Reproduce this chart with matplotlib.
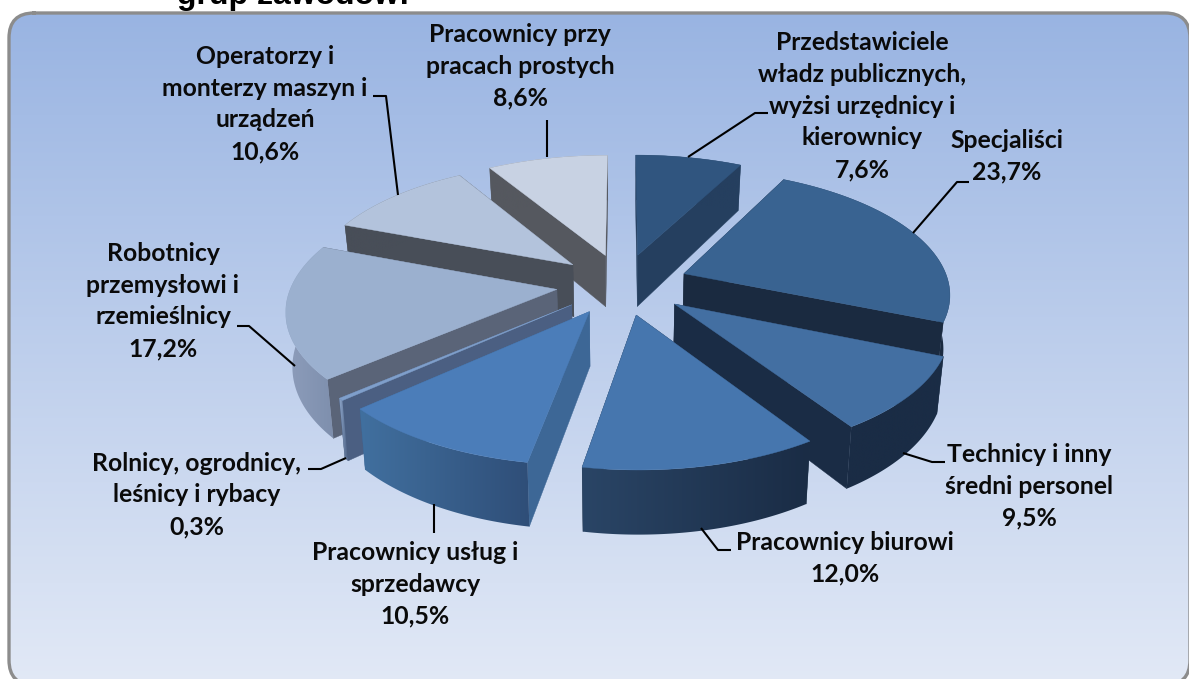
import numpy as np
import matplotlib
matplotlib.use("Agg")
import matplotlib.pyplot as plt
from matplotlib.patches import FancyBboxPatch, Polygon
from matplotlib.colors import to_rgb

labels = ["Przedstawiciele\nwładz publicznych,\nwyżsi urzędnicy i\nkierownicy",
          "Specjaliści",
          "Technicy i inny\nśredni personel",
          "Pracownicy biurowi",
          "Pracownicy usług i\nsprzedawcy",
          "Rolnicy, ogrodnicy,\nleśnicy i rybacy",
          "Robotnicy\nprzemysłowi i\nrzemieślnicy",
          "Operatorzy i\nmonterzy maszyn i\nurządzeń",
          "Pracownicy przy\npracach prostych"]
values = [7.6, 23.7, 9.5, 12.0, 10.5, 0.3, 17.2, 10.6, 8.6]

top_colors = ["#30557F", "#396391", "#436FA2", "#4676AE", "#4B7DB9",
              "#7F9FCB", "#9BB0CF", "#B3C3DC", "#C8D2E3"]
side_colors = ["#253F5F", "#1A2A40", "#1A2C45", "#1C3048", "#3D6796",
               "#4B5F82", "#5A6478", "#484E58", "#55585F"]
# outer wall gradient, left to right
rim_left = ["#253F5F", "#1A2A40", "#1A2C45", "#2A4566", "#41709F",
            "#8FA8CC", "#8D9DBB", "#484E58", "#55585F"]
rim_right = ["#253F5F", "#1A2A40", "#1A2C45", "#1A2C45", "#2F4E78",
             "#4B5F82", "#7E8FAD", "#484E58", "#55585F"]
draw_order = [8, 0, 7, 1, 6, 2, 5, 4, 3]

label_x = [862, 1007, 1029, 845, 415, 197, 163, 265, 520]
label_y = [106, 156, 486, 558, 584, 495, 301, 104, 66]
leaders = [[(688, 157), (755, 113), (768, 113)],
           [(913, 233), (957, 182), (969, 182)],
           [(903, 453), (932, 462), (945, 462)],
           [(701, 528), (718, 550), (731, 550)],
           [(434, 504), (434, 533)],
           [(346, 458), (321, 469), (308, 469)],
           [(295, 366), (249, 326), (237, 326)],
           [(398, 195), (386, 96), (373, 96)],
           [(547, 157), (547, 120)]]

# tilted pie, flat plane -> picture
cx, cy = 622.5, 284
rx, ry = 265, 122.4
persp = 0.145
explode = 0.25
depth = 53
shrink = 0.98


def project(u, v, low=False):
    s = 1 / (1 + persp * v)
    x = cx + rx * u * s
    y = cy - ry * v * s
    if low:
        x = cx + (x - cx) * shrink
        y = y + depth * s
    return x, y


def mix(c1, c2, t):
    return tuple((1 - t) * a + t * b for a, b in zip(to_rgb(c1), to_rgb(c2)))


plt.rcParams['font.family'] = ['Lato', 'DejaVu Sans']
fig = plt.figure(figsize=(11.89, 6.79), dpi=100)
ax = fig.add_axes([0, 0, 1, 1])
ax.set_xlim(0, 1189)
ax.set_ylim(679, 0)
ax.axis("off")

# background
clip = FancyBboxPatch((9 + 25, 13 + 25), 1181 - 50, 672 - 50,
                      boxstyle="round,pad=25,rounding_size=25",
                      facecolor="none", edgecolor="none")
ax.add_patch(clip)
grad = np.linspace(0, 1, 256)
colors = np.array([mix("#99B4E2", "#E2E9F6", t) for t in grad]).reshape(-1, 1, 3)
im = ax.imshow(colors, extent=(9, 1190, 685, 13), aspect="auto", zorder=1)
im.set_clip_path(clip)
outline = clip.get_path().to_polygons(closed_only=False)[0]
ax.plot(outline[:, 0], outline[:, 1], color="#8C8C8C", lw=2.4, zorder=2)

ax.text(293, 3.8, "grup zawodów:", ha="center", va="baseline", fontsize=23,
        fontweight="bold", family=["Liberation Sans"], color="black", zorder=20)

# slices
fracs = np.array(values) / sum(values) * 2 * np.pi
starts = np.concatenate([[0], np.cumsum(fracs)[:-1]])

z = 5
for i in draw_order:
    a0, a1 = starts[i], starts[i] + fracs[i]
    mid = (a0 + a1) / 2
    tu, tv = explode * np.sin(mid), explode * np.cos(mid)
    ang = np.linspace(a0, a1, max(int(np.degrees(fracs[i]) * 2), 4))
    u = tu + np.sin(ang)
    v = tv + np.cos(ang)
    xt, yt = project(u, v)
    xb, yb = project(u, v, low=True)
    tipx, tipy = project(tu, tv)
    tipxb, tipyb = project(tu, tv, low=True)

    # the two cut walls
    ax.fill([tipx, xt[0], xb[0], tipxb], [tipy, yt[0], yb[0], tipyb],
            facecolor=side_colors[i], edgecolor=side_colors[i], lw=0.3, zorder=z)
    ax.fill([tipx, xt[-1], xb[-1], tipxb], [tipy, yt[-1], yb[-1], tipyb],
            facecolor=side_colors[i], edgecolor=side_colors[i], lw=0.3, zorder=z)
    z += 1
    # outer wall with its gradient
    wall = Polygon(np.c_[np.r_[xt, xb[::-1]], np.r_[yt, yb[::-1]]],
                   facecolor="none", edgecolor="none", transform=ax.transData)
    ax.add_patch(wall)
    shade = np.array([mix(rim_left[i], rim_right[i], t) for t in grad]).reshape(1, -1, 3)
    w = ax.imshow(shade, extent=(min(xt.min(), xb.min()), max(xt.max(), xb.max()),
                                 max(yt.max(), yb.max()), min(yt.min(), yb.min())),
                  aspect="auto", zorder=z)
    w.set_clip_path(wall)
    z += 1
    # top face
    ax.fill(np.r_[tipx, xt], np.r_[tipy, yt],
            facecolor=top_colors[i], edgecolor=top_colors[i], lw=0.3, zorder=z)
    z += 1

ax.set_xlim(0, 1189)
ax.set_ylim(679, 0)

# leader lines and labels
for i in range(len(values)):
    px = [p[0] for p in leaders[i]]
    py = [p[1] for p in leaders[i]]
    ax.plot(px, py, color="black", lw=1.5, zorder=50, solid_capstyle="butt")
    txt = labels[i] + "\n" + f"{values[i]:.1f}%".replace(".", ",")
    ax.text(label_x[i], label_y[i], txt, ha="center", va="center", fontsize=17.8,
            fontweight="bold", color="#0A0A0A", linespacing=1.47, zorder=60)

fig.savefig("out.png", dpi=100)
